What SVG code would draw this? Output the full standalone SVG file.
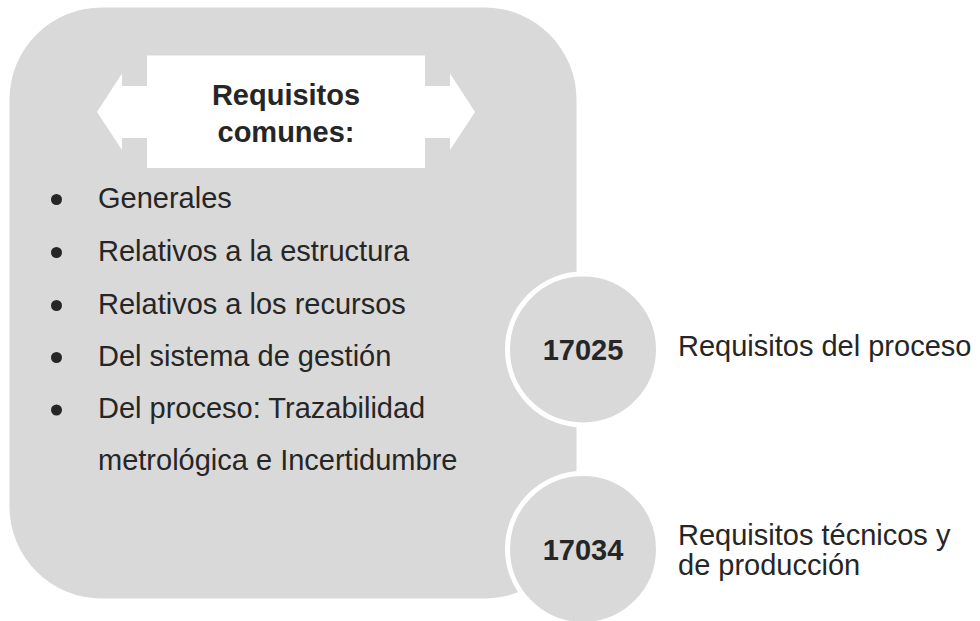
<svg xmlns="http://www.w3.org/2000/svg" width="980" height="621" viewBox="0 0 980 621">
  <style>
    .t { font-family: "Liberation Sans", Arial, sans-serif; font-size: 29px; fill: #262626; }
    .b { font-weight: bold; }
    .bg { fill: #d9d9d9; }
    .circ { fill: #d9d9d9; stroke: #ffffff; stroke-width: 5; }
  </style>
  <rect width="980" height="621" fill="#ffffff"/>
  <g id="common">
    <rect class="bg" x="9.5" y="7.5" width="567" height="591" rx="92" ry="92"/>
    <polygon points="97,112 122,73.5 122,86 450,86 450,73.5 475,112 450,150 450,138 122,138 122,150" fill="#ffffff"/>
    <rect x="147" y="55.5" width="278" height="112.5" fill="#ffffff"/>
    <text class="t b" x="286" y="105" text-anchor="middle">Requisitos</text>
    <text class="t b" x="286" y="142" text-anchor="middle">comunes:</text>
    <g fill="#262626">
      <circle cx="56.5" cy="199.5" r="5.5"/>
      <circle cx="56.5" cy="252.5" r="5.5"/>
      <circle cx="56.5" cy="305.5" r="5.5"/>
      <circle cx="56.5" cy="357.5" r="5.5"/>
      <circle cx="56.5" cy="410" r="5.5"/>
    </g>
    <text class="t" x="98" y="208">Generales</text>
    <text class="t" x="98" y="261">Relativos a la estructura</text>
    <text class="t" x="98" y="314">Relativos a los recursos</text>
    <text class="t" x="98" y="366">Del sistema de gestión</text>
    <text class="t" x="98" y="418">Del proceso: Trazabilidad</text>
    <text class="t" x="98" y="470">metrológica e Incertidumbre</text>
  </g>
  <g id="n17025">
    <circle class="circ" cx="583" cy="349.5" r="75.5"/>
    <text class="t b" x="583" y="360" text-anchor="middle">17025</text>
    <text class="t" x="678" y="356">Requisitos del proceso</text>
  </g>
  <g id="n17034">
    <circle class="circ" cx="583" cy="549" r="75.5"/>
    <text class="t b" x="583" y="560" text-anchor="middle">17034</text>
    <text class="t" x="678" y="545">Requisitos técnicos y</text>
    <text class="t" x="678" y="575">de producción</text>
  </g>
  <g id="connectors"></g>
</svg>
